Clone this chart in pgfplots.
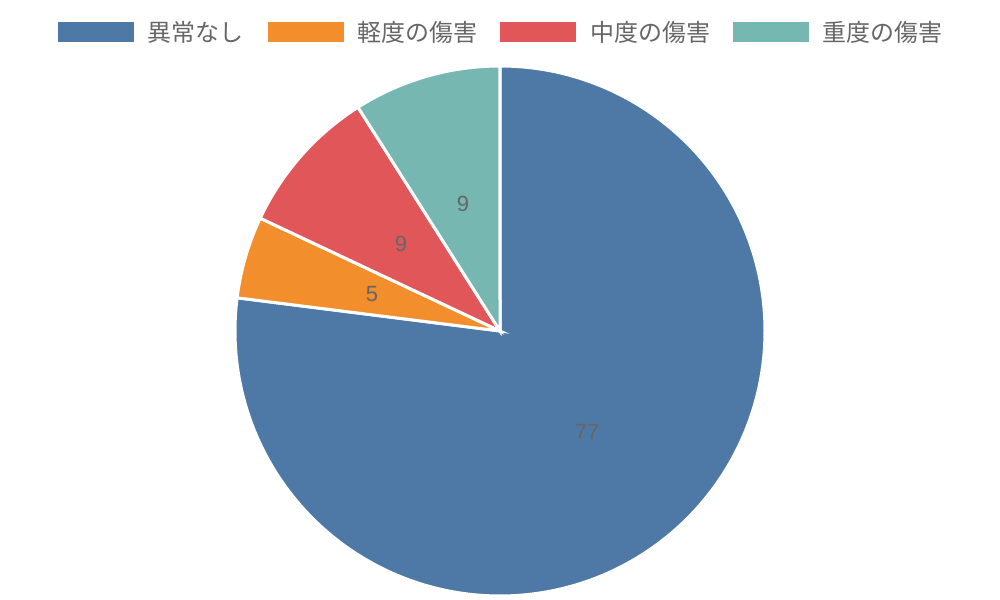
\documentclass[border=0pt]{standalone}
\usepackage{pgfplots}
\pgfplotsset{compat=1.18}
\usepackage{fontspec}
\setmainfont{Liberation Sans}
\newfontfamily\cjk{Noto Sans CJK JP}
\definecolor{cA}{HTML}{4E79A7}
\definecolor{cB}{HTML}{F28E2B}
\definecolor{cC}{HTML}{E15759}
\definecolor{cD}{HTML}{76B7B2}
\definecolor{txt}{HTML}{666666}
% values
\def\vA{77}\def\vB{5}\def\vC{9}\def\vD{9}
\pgfmathsetmacro\tot{\vA+\vB+\vC+\vD}
\pgfmathsetmacro\aZ{90}
\pgfmathsetmacro\aA{\aZ-\vA/\tot*360}
\pgfmathsetmacro\aBs{\aA+360}
\pgfmathsetmacro\aB{\aBs-\vB/\tot*360}
\pgfmathsetmacro\aC{\aB-\vC/\tot*360}
\pgfmathsetmacro\aD{\aC-\vD/\tot*360}
\begin{document}
\begin{tikzpicture}
\begin{axis}[
  scale only axis, width=1000bp, height=600bp,
  xmin=0, xmax=1000, ymin=0, ymax=600,
  hide axis, clip=false,
]
\addplot[draw=none] coordinates {(0,0) (1000,600)};
% slices
\addplot[fill=cA, draw=white, line width=3bp, domain=\aA:\aZ, samples=300]
  ({500+265*cos(x)},{269+265*sin(x)}) -- (500,269) -- cycle;
\addplot[fill=cB, draw=white, line width=3bp, domain=\aB:\aBs, samples=40]
  ({500+265*cos(x)},{269+265*sin(x)}) -- (500,269) -- cycle;
\addplot[fill=cC, draw=white, line width=3bp, domain=\aC:\aB, samples=60]
  ({500+265*cos(x)},{269+265*sin(x)}) -- (500,269) -- cycle;
\addplot[fill=cD, draw=white, line width=3bp, domain=\aD:\aC, samples=60]
  ({500+265*cos(x)},{269+265*sin(x)}) -- (500,269) -- cycle;
% value labels
\addplot[draw=none, mark=none, nodes near coords, point meta=explicit symbolic,
  nodes near coords align={center},
  every node near coord/.style={font=\fontsize{22bp}{22bp}\selectfont, text=txt, anchor=center, inner sep=0pt}]
  coordinates {(587,168)[77] (372,306)[5] (401,356)[9] (463,396)[9]};
% legend
\fill[cA] (58,558) rectangle (134,578);
\fill[cB] (268,558) rectangle (344,578);
\fill[cC] (500,558) rectangle (576,578);
\fill[cD] (733,558) rectangle (809,578);
\tikzset{lg/.style={anchor=west, inner sep=0pt, text=txt, font=\cjk\fontsize{24bp}{24bp}\selectfont}}
\node[lg] at (147,568) {異常なし};
\node[lg] at (357,568) {軽度の傷害};
\node[lg] at (590,568) {中度の傷害};
\node[lg] at (822,568) {重度の傷害};
\end{axis}
\end{tikzpicture}
\end{document}
